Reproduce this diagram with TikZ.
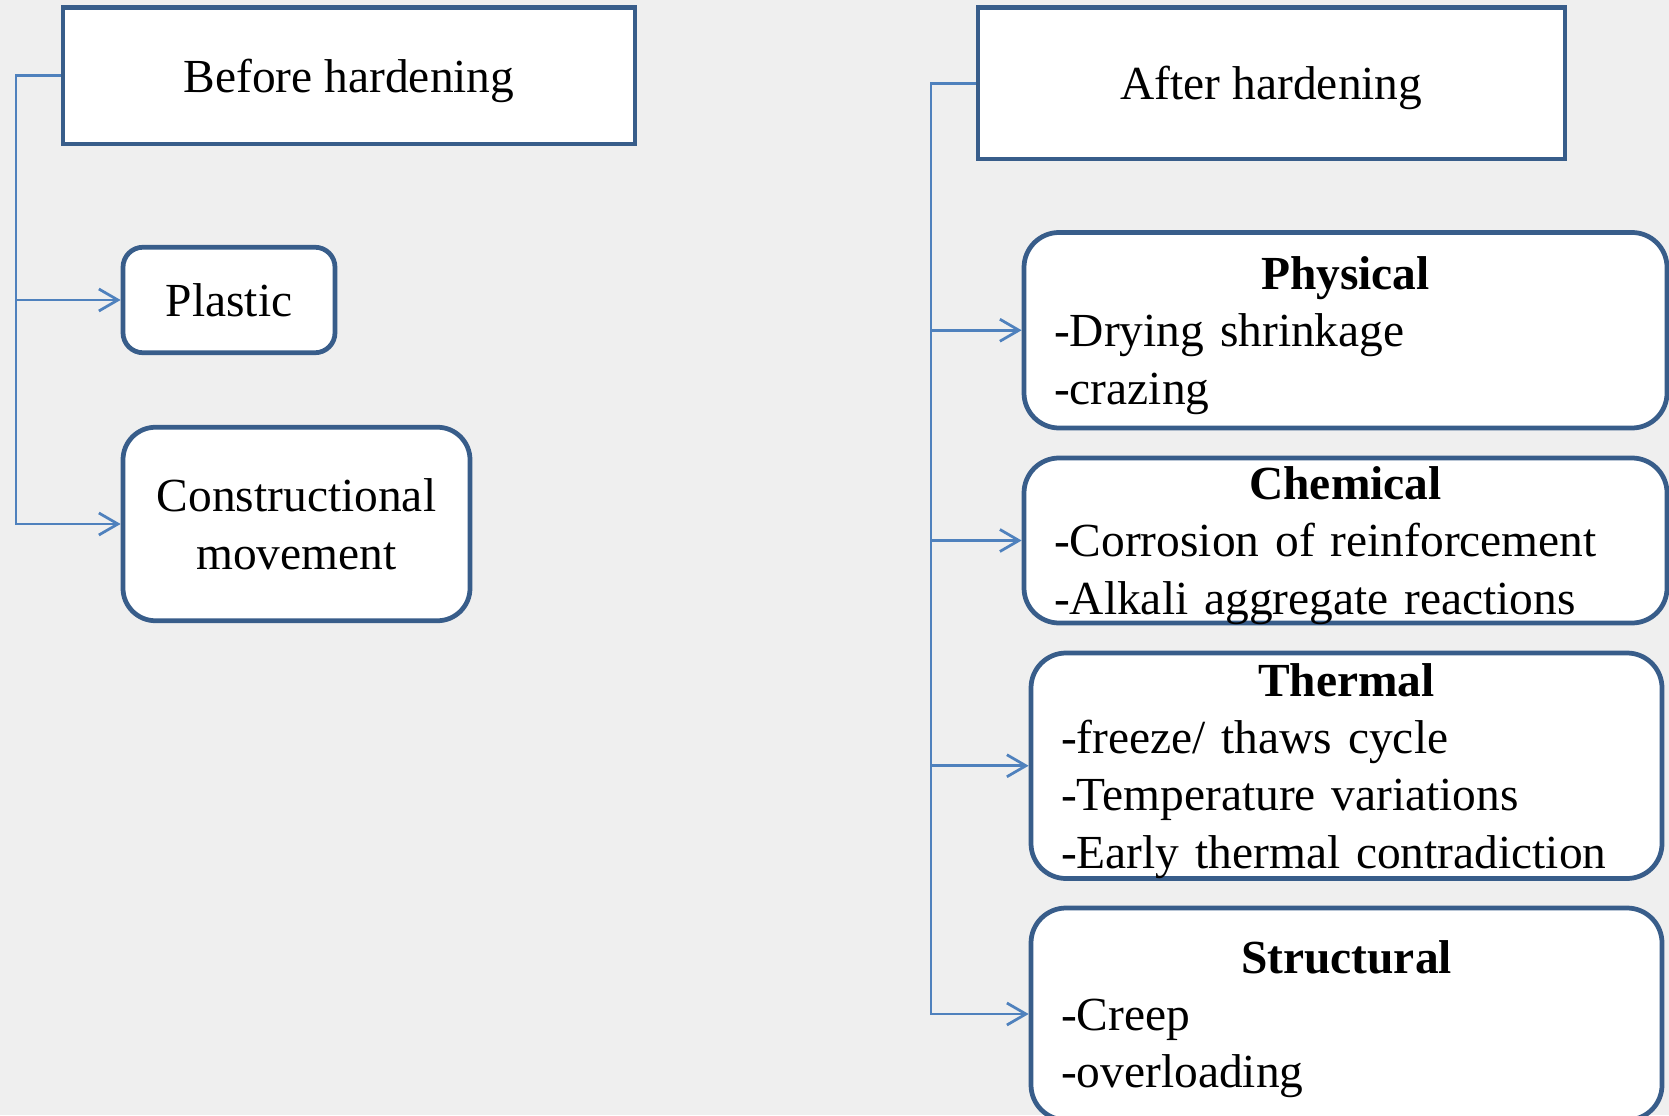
\documentclass[tikz,border=0pt]{standalone}
\usepackage{fontspec}
\setmainfont{Liberation Serif}
\usetikzlibrary{arrows.meta}
\definecolor{boxblue}{RGB}{56,93,138}
\definecolor{linkblue}{RGB}{79,129,189}
\definecolor{paper}{RGB}{239,239,239}
\newcommand{\boxhead}[1]{\hfill\textbf{#1}\hfill\mbox{}\\}
\begin{document}
\begin{tikzpicture}[
    stage/.style={draw=boxblue, fill=white, line width=0.095cm,
      text depth=0pt, font=\fontsize{27}{32.7}\selectfont},
    leaf/.style={stage, align=center},
    group/.style={stage, rounded corners=0.70cm, align=left,
      inner xsep=0.60cm, inner ysep=0pt},
    link/.style={draw=linkblue, line width=0.055cm,
      -{Straight Barb[length=0.38cm,width=0.44cm]}}]
                    % Page and paper
                    \useasboundingbox (0,0) rectangle (33.380000,22.300000);
                    \fill [paper] (0,0) rectangle (33.380000,22.300000);%

                    % Marking box Before hardening
                    \draw (6.980000,20.785000) node [stage, minimum width=11.440000cm, minimum height=2.730000cm] (before) {Before hardening};%

                    % Marking box After hardening
                    \draw (25.430000,20.635000) node [stage, minimum width=11.740000cm, minimum height=3.030000cm] (after) {After hardening};%

                    % Marking box Plastic
                    \draw (4.580000,16.300000) node [leaf, rounded corners=0.400000cm, minimum width=4.240000cm, minimum height=2.110000cm] (plastic) {Plastic};%

                    % Marking box Constructional movement
                    \draw (5.930000,11.820000) node [leaf, rounded corners=0.650000cm, minimum width=6.940000cm, minimum height=3.870000cm] (construct) {Constructional\\movement};%

                    % Marking box Physical
                    \draw (26.910000,15.695000) node [group, text width=11.660000cm, text depth=65.4pt, minimum height=3.910000cm] (physical) {\boxhead{Physical}-Drying shrinkage\\-crazing};%

                    % Marking box Chemical
                    \draw (26.910000,11.490000) node [group, text width=11.660000cm, text depth=65.4pt, minimum height=3.300000cm] (chemical) {\boxhead{Chemical}-Corrosion of reinforcement\\-Alkali aggregate reactions};%

                    % Marking box Thermal
                    \draw (26.930000,6.985000) node [group, text width=11.420000cm, text depth=98.1pt, minimum height=4.510000cm] (thermal) {\boxhead{Thermal}-freeze/ thaws cycle\\-Temperature variations\\-Early thermal contradiction};%

                    % Marking box Structural
                    \draw (26.930000,2.020000) node [group, text width=11.420000cm, text depth=65.4pt, minimum height=4.240000cm] (structural) {\boxhead{Structural}-Creep\\-overloading};%

                    % Drawing left trunk
                    \coordinate (ltrunk) at (0.320000,20.785000);
                    \draw [link] (before.west) -- (ltrunk) |- (construct.west);%
                    \draw [link] (ltrunk) |- (plastic.west);%

                    % Drawing right trunk
                    \coordinate (rtrunk) at (18.620000,20.635000);
                    \draw [link] (after.west) -- (rtrunk) |- (structural.west);%
                    \draw [link] (rtrunk) |- (physical.west);%
                    \draw [link] (rtrunk) |- (chemical.west);%
                    \draw [link] (rtrunk) |- (thermal.west);%
\end{tikzpicture}
\end{document}
